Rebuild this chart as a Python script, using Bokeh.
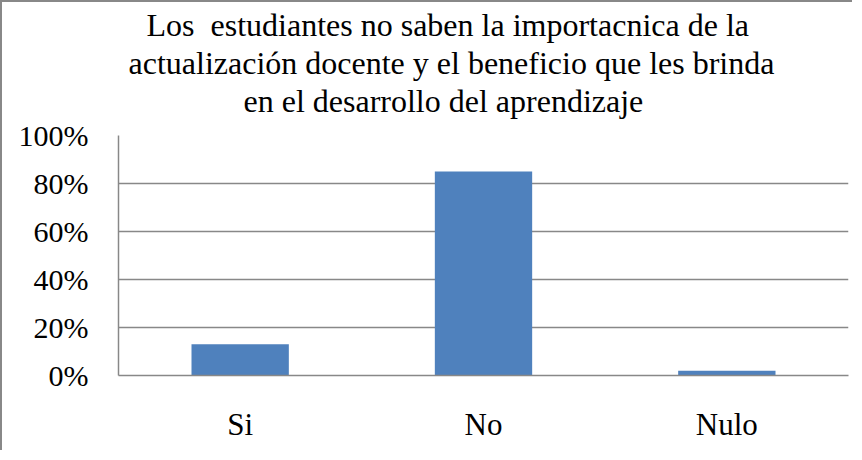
from bokeh.plotting import figure
from bokeh.models import Title, NumeralTickFormatter, FixedTicker
from bokeh.embed import file_html
from bokeh.resources import INLINE

categories = ["Si", "No", "Nulo"]
values = [0.13, 0.85, 0.02]
y_ticks = [0, 0.2, 0.4, 0.6, 0.8, 1.0]
title_lines = [
    "Los\u00a0 estudiantes no saben la importacnica de la",
    "actualización docente y el beneficio que les brinda",
    "en el desarrollo del aprendizaje",
]
title_offsets = [28, 10, 125]

FONT = "Liberation Serif"
GRID = "#888888"

p = figure(x_range=categories, y_range=(0, 1.0), width=852, height=450,
           output_backend="svg", toolbar_location=None,
           min_border_left=116, min_border_top=133, min_border_right=6,
           min_border_bottom=77)
p.styles = {"border-left": "2px solid #888888", "border-top": "2px solid #888888"}

p.vbar(x=categories, top=values, width=0.4, color="#4F81BD", line_color=None)

p.outline_line_color = None
p.background_fill_color = "white"
p.border_fill_color = "white"

p.yaxis.ticker = FixedTicker(ticks=y_ticks)
p.yaxis.formatter = NumeralTickFormatter(format="0%")
p.yaxis.major_label_text_font = FONT
p.yaxis.major_label_text_font_size = "30px"
p.yaxis.major_label_text_color = "black"
p.yaxis.major_label_standoff = 24
p.yaxis.major_tick_line_color = None
p.yaxis.minor_tick_line_color = None
p.yaxis.axis_line_color = GRID
p.yaxis.axis_line_width = 1.5

p.xaxis.major_label_text_font = FONT
p.xaxis.major_label_text_font_size = "31px"
p.xaxis.major_label_text_color = "black"
p.xaxis.major_label_standoff = 25
p.xaxis.major_tick_line_color = None
p.xaxis.minor_tick_line_color = None
p.xaxis.axis_line_color = GRID
p.xaxis.axis_line_width = 1.5

p.xgrid.grid_line_color = None
p.ygrid.grid_line_color = GRID
p.ygrid.grid_line_width = 1.5

# spacer between the plot frame and the title block
p.add_layout(Title(text=" ", text_font_size="1px", standoff=14), "above")
for line, off in reversed(list(zip(title_lines, title_offsets))):
    p.add_layout(Title(text=line, align="left", offset=off, standoff=0,
                       text_font=FONT, text_font_size="32px",
                       text_font_style="normal", text_color="black"), "above")

open("out.html", "w").write(file_html(p, INLINE))
